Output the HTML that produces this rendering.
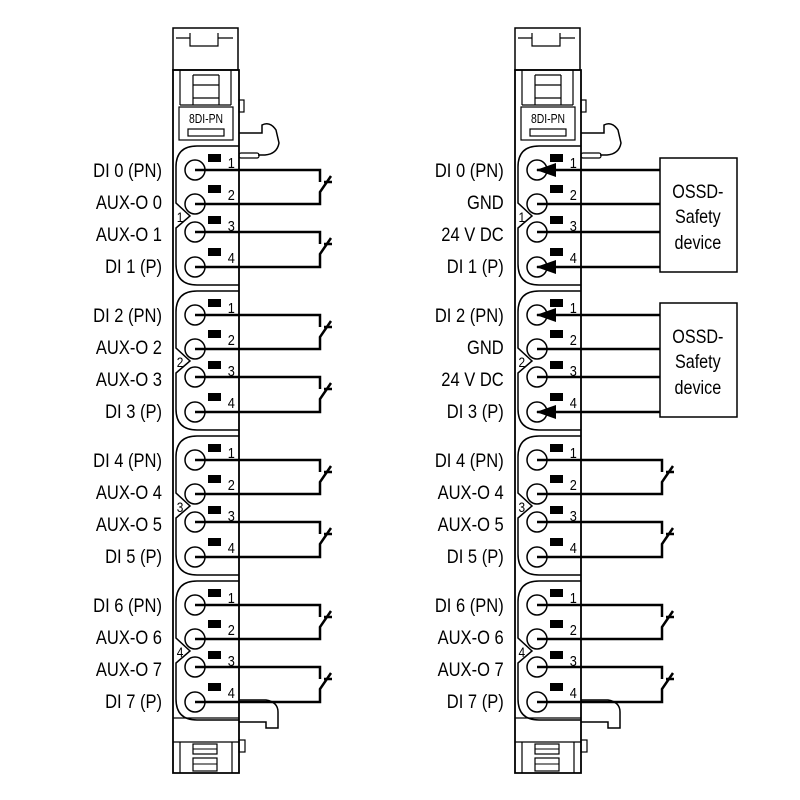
<!DOCTYPE html>
<html><head><meta charset="utf-8"><style>html,body{margin:0;padding:0;background:#fff}svg{display:block}</style></head>
<body>
<svg width="800" height="800" viewBox="0 0 800 800" xmlns="http://www.w3.org/2000/svg">
<defs>
<g id="mod" fill="none" stroke="#000">
  <rect x="173" y="28" width="65" height="42" stroke-width="1.5"/>
  <path d="M176,38 H190 V46 H218 V38 H233 M190,33 V38 M218,33 V38" stroke-width="1.2"/>
  <path d="M173,70 V773 H239 V70 Z" stroke-width="1.8"/>
  <path d="M180,70 V105 M231,70 V105 M193,75 V105 M219,75 V105 M193,75 H219 M193,85 H219 M193,98 H219 M180,105 H231" stroke-width="1.2"/>
  <rect x="179" y="107" width="54" height="33" stroke-width="1.2"/>
  <rect x="188" y="129" width="36" height="7" stroke-width="1.2"/>
  <rect x="239" y="100" width="5" height="12" stroke-width="1.2"/>
  <path d="M239,133 H262 V125 Q270,121 276,130 L279,143 Q277,154 265,155 H258" stroke-width="1.5"/>
  <rect x="239" y="153" width="20" height="5" rx="2" stroke-width="1.2"/>
  <path d="M239,700 H266 Q278,702 278,712 V728 H266 V722 H239" stroke-width="1.5"/>
  <path d="M173,718 H239 M173,742 H239 M180,742 V773 M232,742 V773" stroke-width="1.2"/>
  <rect x="193" y="744" width="24" height="10" stroke-width="1.2"/>
  <rect x="193" y="758" width="24" height="13" stroke-width="1.2"/>
  <path d="M193,749 H217 M193,764 H217" stroke-width="1"/>
  <rect x="239" y="740" width="6" height="12" stroke-width="1.2"/>
</g>
<g id="grp" stroke="#000" fill="none">
  <path d="M239,0 H197 Q176,0 176,21 V57 L190,70 L176,82 V118 Q176,139 197,139 H239" stroke-width="1.5"/>
  <circle cx="195" cy="24" r="10" stroke-width="1.5"/>
  <circle cx="195" cy="58" r="10" stroke-width="1.5"/>
  <circle cx="195" cy="86" r="10" stroke-width="1.5"/>
  <circle cx="195" cy="121" r="10" stroke-width="1.5"/>
  <g fill="#000" stroke="none">
    <rect x="208" y="8" width="13" height="8"/><rect x="208" y="39" width="13" height="8"/>
    <rect x="208" y="70" width="13" height="8"/><rect x="208" y="102" width="13" height="8"/>
  </g>
  <g fill="#000" stroke="none" font-family="Liberation Sans, sans-serif" font-size="15" transform="scale(0.85,1)">
    <text x="268" y="22">1</text><text x="268" y="54">2</text><text x="268" y="85">3</text><text x="268" y="117">4</text>
  </g>
</g>
<g id="sw" stroke="#000" fill="none" stroke-width="2.5">
  <path d="M195,24 H320 V36 M195,58 H320 V46 L331,30 M324,36 H332"/>
  <path d="M195,86 H320 V98 M195,121 H320 V108 L331,92 M324,98 H332"/>
</g>
<g id="ossd" stroke="#000" fill="none">
  <path d="M537,24 H660 M537,58 H660 M537,86 H660 M537,121 H660" stroke-width="2.5"/>
  <path d="M536,24 L556,17 V31 Z M536,121 L556,114 V128 Z" fill="#000" stroke="none"/>
  <rect x="660" y="12" width="77" height="114" stroke-width="1.5" fill="#fff"/>
</g>
</defs>

<use href="#mod"/>
<use href="#mod" transform="translate(342,0)"/>

<g transform="translate(0,146)"><use href="#grp"/><use href="#sw"/><use href="#grp" x="342"/><use href="#ossd"/></g>
<g transform="translate(0,291)"><use href="#grp"/><use href="#sw"/><use href="#grp" x="342"/><use href="#ossd"/></g>
<g transform="translate(0,436)"><use href="#grp"/><use href="#sw"/><use href="#grp" x="342"/><use href="#sw" x="342"/></g>
<g transform="translate(0,581)"><use href="#grp"/><use href="#sw"/><use href="#grp" x="342"/><use href="#sw" x="342"/></g>

<g font-family="Liberation Sans, sans-serif" font-size="13" transform="scale(0.8,1)">
  <text x="257.5" y="123" text-anchor="middle">8DI-PN</text>
  <text x="685" y="123" text-anchor="middle">8DI-PN</text>
</g>
<g font-family="Liberation Sans, sans-serif" font-size="14" transform="scale(0.85,1)">
  <text x="208" y="222">1</text><text x="208" y="367">2</text><text x="208" y="512">3</text><text x="208" y="657">4</text>
  <text x="610" y="222">1</text><text x="610" y="367">2</text><text x="610" y="512">3</text><text x="610" y="657">4</text>
</g>

<g font-family="Liberation Sans, sans-serif" font-size="19" text-anchor="end" transform="scale(0.87,1)">
  <g>
    <text x="186.2" y="177">DI 0 (PN)</text><text x="186.2" y="209">AUX-O 0</text><text x="186.2" y="241">AUX-O 1</text><text x="186.2" y="273">DI 1 (P)</text>
    <text x="186.2" y="322">DI 2 (PN)</text><text x="186.2" y="354">AUX-O 2</text><text x="186.2" y="386">AUX-O 3</text><text x="186.2" y="418">DI 3 (P)</text>
    <text x="186.2" y="467">DI 4 (PN)</text><text x="186.2" y="499">AUX-O 4</text><text x="186.2" y="531">AUX-O 5</text><text x="186.2" y="563">DI 5 (P)</text>
    <text x="186.2" y="612">DI 6 (PN)</text><text x="186.2" y="644">AUX-O 6</text><text x="186.2" y="676">AUX-O 7</text><text x="186.2" y="708">DI 7 (P)</text>
  </g>
  <g>
    <text x="579" y="177">DI 0 (PN)</text><text x="579" y="209">GND</text><text x="579" y="241">24 V DC</text><text x="579" y="273">DI 1 (P)</text>
    <text x="579" y="322">DI 2 (PN)</text><text x="579" y="354">GND</text><text x="579" y="386">24 V DC</text><text x="579" y="418">DI 3 (P)</text>
    <text x="579" y="467">DI 4 (PN)</text><text x="579" y="499">AUX-O 4</text><text x="579" y="531">AUX-O 5</text><text x="579" y="563">DI 5 (P)</text>
    <text x="579" y="612">DI 6 (PN)</text><text x="579" y="644">AUX-O 6</text><text x="579" y="676">AUX-O 7</text><text x="579" y="708">DI 7 (P)</text>
  </g>
</g>
<g font-family="Liberation Sans, sans-serif" font-size="19" text-anchor="middle" transform="scale(0.85,1)">
  <text x="821" y="198">OSSD-</text><text x="821" y="223">Safety</text><text x="821" y="249">device</text>
  <text x="821" y="343">OSSD-</text><text x="821" y="368">Safety</text><text x="821" y="394">device</text>
</g>
</svg>
</body></html>
